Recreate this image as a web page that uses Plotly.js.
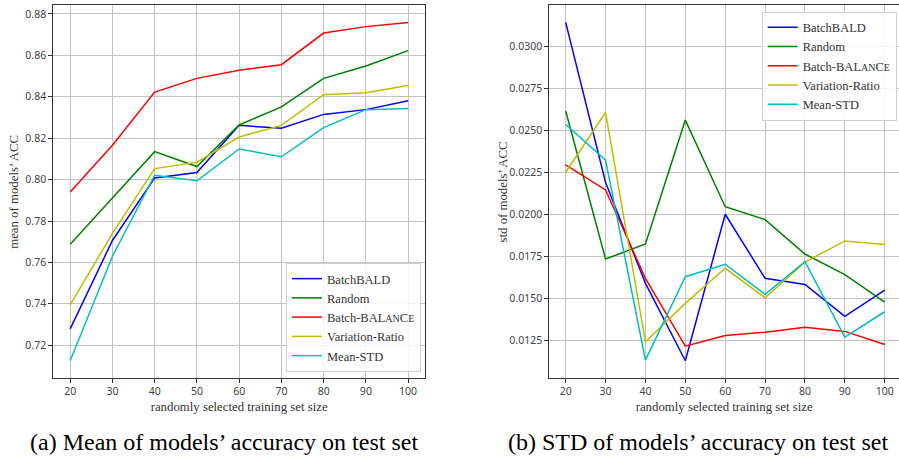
<!DOCTYPE html>
<html><head><meta charset="utf-8">
<script src="https://cdn.plot.ly/plotly-3.0.1.min.js"></script>
<style>body{margin:0;background:#fff}#chart{width:899px;height:458px}</style>
</head><body><div id="chart"></div>
<script>
const sizes = [20, 30, 40, 50, 60, 70, 80, 90, 100];
const methods = ["BatchBALD", "Random", "Batch-BALanCe", "Variation-Ratio", "Mean-STD"];
const legendNames = ["BatchBALD", "Random",
  "Batch-BAL<span style='font-size:10px'>AN</span>C<span style='font-size:10px'>E</span>",
  "Variation-Ratio", "Mean-STD"];
const colors = ["#0000ff", "#008000", "#ff0000", "#bfbf00", "#00bfbf"];

// mean of models' ACC
const meanBatchBALD = [0.7279, 0.7706, 0.8008, 0.8034, 0.8262, 0.8248, 0.8315, 0.8338, 0.8381];
const meanRandom    = [0.7688, 0.7910, 0.8135, 0.8063, 0.8264, 0.8351, 0.8489, 0.8549, 0.8623];
const meanBalance   = [0.7940, 0.8166, 0.8423, 0.8489, 0.8528, 0.8555, 0.8708, 0.8739, 0.8759];
const meanVarRatio  = [0.7395, 0.7740, 0.8053, 0.8084, 0.8206, 0.8262, 0.8410, 0.8420, 0.8455];
const meanMeanSTD   = [0.7125, 0.7630, 0.8021, 0.7994, 0.8148, 0.8110, 0.8251, 0.8338, 0.8343];

// std of models' ACC
const stdBatchBALD = [0.03143, 0.02189, 0.01588, 0.01127, 0.02000, 0.01618, 0.01582, 0.01391, 0.01548];
const stdRandom    = [0.02615, 0.01733, 0.01823, 0.02561, 0.02045, 0.01968, 0.01763, 0.01640, 0.01477];
const stdBalance   = [0.02294, 0.02145, 0.01618, 0.01214, 0.01278, 0.01297, 0.01326, 0.01302, 0.01224];
const stdVarRatio  = [0.02250, 0.02606, 0.01240, 0.01469, 0.01678, 0.01502, 0.01715, 0.01841, 0.01819];
const stdMeanSTD   = [0.02535, 0.02322, 0.01131, 0.01628, 0.01702, 0.01523, 0.01717, 0.01268, 0.01419];

const meanSeries = [meanBatchBALD, meanRandom, meanBalance, meanVarRatio, meanMeanSTD];
const stdSeries = [stdBatchBALD, stdRandom, stdBalance, stdVarRatio, stdMeanSTD];

const traces = [];
meanSeries.forEach((ys, i) => traces.push({
  x: sizes, y: ys, type: "scatter", mode: "lines", name: legendNames[i],
  line: {color: colors[i], width: 1.5}, xaxis: "x", yaxis: "y", legend: "legend"
}));
stdSeries.forEach((ys, i) => traces.push({
  x: sizes, y: ys, type: "scatter", mode: "lines", name: legendNames[i],
  line: {color: colors[i], width: 1.5}, xaxis: "x2", yaxis: "y2", legend: "legend2"
}));

const W = 899, H = 458;
const tickFont = {family: "Noto Sans, Open Sans, sans-serif", size: 10.5, color: "#444"};
const titleFont = {family: "Liberation Serif, serif", size: 12.8, color: "#333"};
const axBase = {
  showline: true, mirror: true, linecolor: "#333", linewidth: 1,
  ticks: "outside", ticklen: 4, tickcolor: "#333", tickwidth: 1,
  showgrid: true, gridcolor: "#c4c4c4", gridwidth: 1, zeroline: false,
  tickfont: tickFont
};
const legBase = {
  bgcolor: "rgba(255,255,255,0.85)", bordercolor: "#d0d0d0", borderwidth: 1,
  font: {family: "Liberation Serif, serif", size: 12.5, color: "#333"},
  xanchor: "left", tracegroupgap: 0, itemwidth: 30
};
const plotTop = 5.3, plotBottom = 377.7;
const yMid = 1 - (plotTop + plotBottom) / 2 / H;

const layout = {
  width: W, height: H,
  margin: {l: 0, r: 0, t: 0, b: 0},
  paper_bgcolor: "#fff", plot_bgcolor: "#fff",
  showlegend: true,
  xaxis: Object.assign({}, axBase, {
    domain: [53.3 / W, 425 / W], range: [16, 104], tickvals: sizes, anchor: "y",
    title: {text: "randomly selected training set size", font: titleFont, standoff: 4}
  }),
  yaxis: Object.assign({}, axBase, {
    domain: [1 - plotBottom / H, 1 - plotTop / H], range: [0.7043, 0.8842], dtick: 0.02, tick0: 0,
    tickformat: ".2f", anchor: "x"
  }),
  xaxis2: Object.assign({}, axBase, {
    domain: [549.3 / W, 1], range: [15.89, 103.58], tickvals: sizes, anchor: "y2",
    title: {text: "randomly selected training set size", font: titleFont, standoff: 4}
  }),
  yaxis2: Object.assign({}, axBase, {
    domain: [1 - plotBottom / H, 1 - plotTop / H], range: [0.01026, 0.03245], dtick: 0.0025, tick0: 0,
    tickformat: ".4f", anchor: "x2"
  }),
  legend: Object.assign({}, legBase, {x: 286 / W, y: 1 - 372 / H, yanchor: "bottom"}),
  legend2: Object.assign({}, legBase, {x: 761.7 / W, y: 1 - 11.7 / H, yanchor: "top"}),
  annotations: [
    {text: "mean of models\u2019 ACC", xref: "paper", yref: "paper", textangle: -90,
     x: 13.3 / W, y: yMid, xanchor: "center", yanchor: "middle", showarrow: false, font: titleFont},
    {text: "std of models\u2019 ACC", xref: "paper", yref: "paper", textangle: -90,
     x: 502 / W, y: yMid, xanchor: "center", yanchor: "middle", showarrow: false, font: titleFont},
    {text: "(a) Mean of models\u2019 accuracy on test set", xref: "paper", yref: "paper",
     x: 223.5 / W, y: 1 - 442 / H, xanchor: "center", yanchor: "middle", showarrow: false,
     font: {family: "Liberation Serif, serif", size: 24, color: "#000"}},
    {text: "(b) STD of models\u2019 accuracy on test set", xref: "paper", yref: "paper",
     x: 697.5 / W, y: 1 - 442 / H, xanchor: "center", yanchor: "middle", showarrow: false,
     font: {family: "Liberation Serif, serif", size: 24, color: "#000"}}
  ]
};

Plotly.newPlot("chart", traces, layout, {displayModeBar: false, staticPlot: true});
</script>
</body></html>
